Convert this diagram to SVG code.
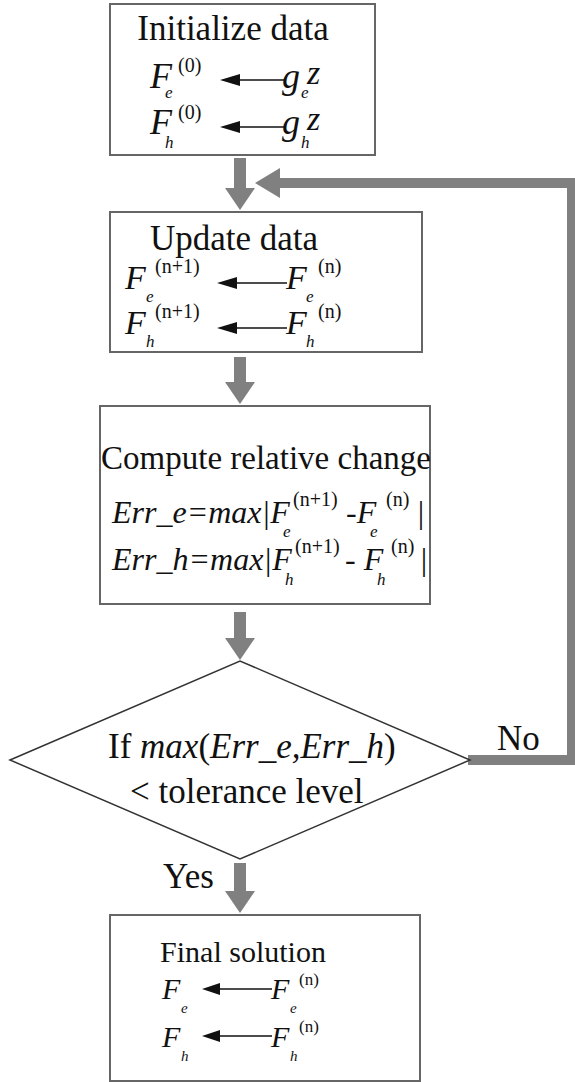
<svg xmlns="http://www.w3.org/2000/svg" width="575" height="1082" viewBox="0 0 575 1082">
<style>
.t{font-family:"Liberation Serif","Times New Roman",serif;font-size:35px;fill:#111}
.i{font-style:italic}
.f{font-family:"Liberation Serif","Times New Roman",serif;font-style:italic;font-size:36px;fill:#111}
.sup{font-family:"Liberation Serif","Times New Roman",serif;font-size:20px;fill:#111}
.sub{font-family:"Liberation Serif","Times New Roman",serif;font-style:italic;font-size:17px;fill:#111}
.box{fill:#fff;stroke:#666;stroke-width:2}
.dia{fill:#fff;stroke:#333;stroke-width:1.5}
.gar{fill:#808080}
.loop{fill:none;stroke:#808080;stroke-width:10}
.ln{stroke:#111;stroke-width:1.5}
.hd{fill:#111}
</style>
<g id="connectors">
<polygon class="gar" points="234,158 246,158 246,188 255,188 240,210 225,188 234,188"/>
<polyline class="loop" points="468,760 572,760 572,183 276,183"/>
<polygon class="gar" points="255,183 280,168 280,198"/>
<polygon class="gar" points="234,357 246,357 246,382 255,382 240,404 225,382 234,382"/>
<polygon class="gar" points="234,612 246,612 246,638 255,638 240,660 225,638 234,638"/>
<polygon class="gar" points="234,863 246,863 246,891 255,891 240,913 225,891 234,891"/>
<text class="t" x="497" y="750">No</text>
<text class="t" x="163" y="888">Yes</text>
</g>
<g id="init">
<rect class="box" x="110" y="4" width="265" height="151"/>
<text class="t" x="233" y="40" text-anchor="middle">Initialize data</text>
<text class="f" x="150" y="88">F</text><text class="sub" x="165" y="98">e</text><text class="sup" x="178" y="72">(0)</text>
<line class="ln" x1="236" y1="80" x2="284" y2="80"/><polygon class="hd" points="220,80 240,74 240,86"/>
<text class="f" x="282" y="88">g</text><text class="sub" x="301" y="98">e</text><text class="f" x="307" y="84" style="font-size:34px">z</text>
<text class="f" x="150" y="134">F</text><text class="sub" x="165" y="148">h</text><text class="sup" x="178" y="119">(0)</text>
<line class="ln" x1="236" y1="127" x2="284" y2="127"/><polygon class="hd" points="220,127 240,121 240,133"/>
<text class="f" x="282" y="134">g</text><text class="sub" x="301" y="148">h</text><text class="f" x="307" y="130" style="font-size:34px">z</text>
</g>
<g id="update">
<rect class="box" x="110" y="212" width="312" height="140"/>
<text class="t" x="234" y="250" text-anchor="middle">Update data</text>
<text class="f" x="125" y="289" style="font-size:34px">F</text><text class="sub" x="146" y="302">e</text><text class="sup" x="155" y="273">(n+1)</text>
<line class="ln" x1="233" y1="283" x2="287" y2="283"/><polygon class="hd" points="217,283 237,277 237,289"/>
<text class="f" x="286" y="289" style="font-size:34px">F</text><text class="sub" x="306" y="302">e</text><text class="sup" x="318" y="273">(n)</text>
<text class="f" x="125" y="334" style="font-size:34px">F</text><text class="sub" x="146" y="347">h</text><text class="sup" x="155" y="318">(n+1)</text>
<line class="ln" x1="233" y1="328" x2="287" y2="328"/><polygon class="hd" points="217,328 237,322 237,334"/>
<text class="f" x="286" y="334" style="font-size:34px">F</text><text class="sub" x="306" y="347">h</text><text class="sup" x="318" y="318">(n)</text>
</g>
<g id="compute">
<rect class="box" x="100" y="406" width="330" height="198"/>
<text class="t" x="266" y="469" text-anchor="middle" style="font-size:33px">Compute relative change</text>
<text class="f" x="112" y="523" style="font-size:32px">Err_e=max|F</text>
<text class="sub" x="283" y="537">e</text><text class="sup" x="293" y="506">(n+1)</text>
<text class="f" x="346" y="523" style="font-size:32px">-F</text>
<text class="sub" x="370" y="537">e</text><text class="sup" x="386" y="506">(n)</text>
<text class="f" x="416" y="523" style="font-size:32px">|</text>
<text class="f" x="112" y="570" style="font-size:32px">Err_h=max|F</text>
<text class="sub" x="285" y="585">h</text><text class="sup" x="295" y="553">(n+1)</text>
<text class="f" x="345" y="570" style="font-size:32px">- F</text>
<text class="sub" x="377" y="585">h</text><text class="sup" x="391" y="553">(n)</text>
<text class="f" x="419" y="570" style="font-size:32px">|</text>
</g>
<g id="decision">
<polygon class="dia" points="10,760 240,661 470,760 240,859"/>
<text class="t" x="108" y="758">If <tspan class="i">max</tspan>(<tspan class="i">Err_e,Err_h</tspan>)</text>
<text class="t" x="130" y="803">&lt;  tolerance level</text>
</g>
<g id="final">
<rect class="box" x="110" y="915" width="310" height="166"/>
<text class="t" x="243" y="962" text-anchor="middle" style="font-size:30px">Final solution</text>
<text class="f" x="162" y="999" style="font-size:30px">F</text><text class="sub" x="181" y="1013" style="font-size:15px">e</text>
<line class="ln" x1="216" y1="989" x2="272" y2="989"/><polygon class="hd" points="202,989 220,983 220,995"/>
<text class="f" x="271" y="999" style="font-size:30px">F</text><text class="sub" x="290" y="1013" style="font-size:15px">e</text><text class="sup" x="299" y="985" style="font-size:17px">(n)</text>
<text class="f" x="162" y="1047" style="font-size:30px">F</text><text class="sub" x="181" y="1061" style="font-size:15px">h</text>
<line class="ln" x1="216" y1="1036" x2="272" y2="1036"/><polygon class="hd" points="202,1036 220,1030 220,1042"/>
<text class="f" x="271" y="1047" style="font-size:30px">F</text><text class="sub" x="290" y="1061" style="font-size:15px">h</text><text class="sup" x="299" y="1032" style="font-size:17px">(n)</text>
</g>
</svg>
